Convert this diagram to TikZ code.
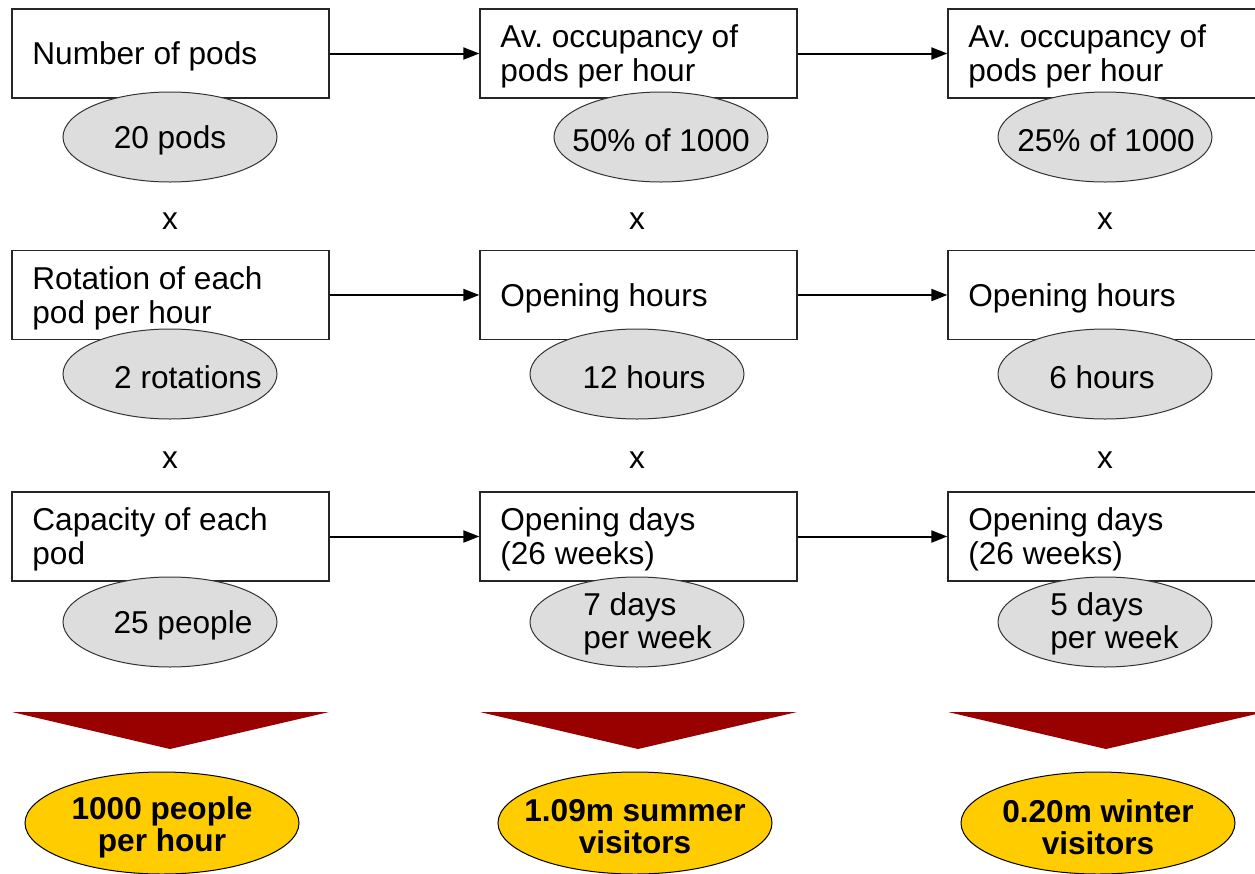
\documentclass[tikz,border=0pt]{standalone}
\usepackage{fontspec}
\setmainfont{Liberation Sans}
\usetikzlibrary{shapes.geometric,arrows.meta}
\definecolor{ellgrey}{HTML}{DDDDDD}
\definecolor{darkred}{HTML}{990000}
\definecolor{gold}{HTML}{FFCC00}
\tikzset{
  boxnode/.style={draw=black!85, line width=0.65pt, fill=white, rectangle, minimum width=158.5pt, minimum height=44.5pt, inner sep=0pt},
  boxtxt/.style={inner sep=0pt, anchor=west, align=left, yshift=-1.5pt, font=\fontsize{15.8pt}{17pt}\selectfont\frenchspacing},
  greyell/.style={draw=black!80, line width=0.5pt, fill=ellgrey, ellipse, inner sep=0pt, minimum width=107pt, minimum height=45pt},
  goldell/.style={draw=black, line width=0.5pt, fill=gold, ellipse, inner sep=0pt, minimum width=137pt, minimum height=51pt},
  txt/.style={inner sep=0pt, yshift=-1.5pt, font=\fontsize{15.8pt}{17pt}\selectfont},
  boldtxt/.style={inner sep=0pt, align=center, yshift=-1.5pt, font=\fontsize{15.8pt}{16pt}\selectfont\bfseries},
  lefttxt/.style={inner sep=0pt, align=left, anchor=west, yshift=-1.5pt, font=\fontsize{15.8pt}{16.5pt}\selectfont},
  arr/.style={line width=1pt, -{Triangle[length=8pt,width=6pt]}},
  chev/.style={fill=darkred, draw=none},
}
\begin{document}
\begin{tikzpicture}[x=0.5pt,y=-0.5pt]
\useasboundingbox (0,0) rectangle (1255,874);
\clip (0,0) rectangle (1255,874);
% boxes
\node[boxnode] (b11) at (170.5,53.5) {};
\node[boxnode] (b12) at (638.5,53.5) {};
\node[boxnode] (b13) at (1106.5,53.5) {};
\node[boxnode] (b21) at (170.5,295) {};
\node[boxnode] (b22) at (638.5,295) {};
\node[boxnode] (b23) at (1106.5,295) {};
\node[boxnode] (b31) at (170.5,536.5) {};
\node[boxnode] (b32) at (638.5,536.5) {};
\node[boxnode] (b33) at (1106.5,536.5) {};
% box labels
\node[boxtxt] (l11) at (32,53.5) {Number of pods};
\node[boxtxt] (l12) at (500,53.5) {Av. occupancy of\\pods per hour};
\node[boxtxt] (l13) at (968,53.5) {Av. occupancy of\\pods per hour};
\node[boxtxt] (l21) at (32,295) {Rotation of each\\pod per hour};
\node[boxtxt] (l22) at (500,295) {Opening hours};
\node[boxtxt] (l23) at (968,295) {Opening hours};
\node[boxtxt] (l31) at (32,536.5) {Capacity of each\\pod};
\node[boxtxt] (l32) at (500,536.5) {Opening days\\(26 weeks)};
\node[boxtxt] (l33) at (968,536.5) {Opening days\\(26 weeks)};
% arrows
\draw[arr] (b11.east) -- (b12.west);
\draw[arr] (b12.east) -- (b13.west);
\draw[arr] (b21.east) -- (b22.west);
\draw[arr] (b22.east) -- (b23.west);
\draw[arr] (b31.east) -- (b32.west);
\draw[arr] (b32.east) -- (b33.west);
% grey ellipses
\node[greyell] (e11) at (170,137) {};
\node[greyell] (e12) at (661,137) {};
\node[greyell] (e13) at (1105,137) {};
\node[greyell] (e21) at (170,374) {};
\node[greyell] (e22) at (637,374) {};
\node[greyell] (e23) at (1105,374) {};
\node[greyell] (e31) at (170,622) {};
\node[greyell] (e32) at (637,622) {};
\node[greyell] (e33) at (1105,622) {};
% ellipse texts
\node[txt] (t11) at (170,137) {20 pods};
\node[txt] (t12) at (661,137) {50\% of 1000};
\node[txt] (t13) at (1106,137) {25\% of 1000};
\node[txt] (t21) at (188,374) {2 rotations};
\node[txt] (t22) at (644,374) {12 hours};
\node[txt] (t23) at (1102,374) {6 hours};
\node[txt] (t31) at (183,622) {25 people};
\node[lefttxt] (t32) at (583,621) {7 days\\per week};
\node[lefttxt] (t33) at (1050,621) {5 days\\per week};
% multiplication signs
\node[txt] (x11) at (170,218) {x};
\node[txt] (x12) at (637,218) {x};
\node[txt] (x13) at (1105,218) {x};
\node[txt] (x21) at (170,457) {x};
\node[txt] (x22) at (637,457) {x};
\node[txt] (x23) at (1105,457) {x};
% chevrons
\fill[chev] (12,712) -- (329,712) -- (170,749) -- cycle;
\fill[chev] (480,712) -- (797,712) -- (638,749) -- cycle;
\fill[chev] (948,712) -- (1265,712) -- (1106,749) -- cycle;
% gold results
\node[goldell] (g1) at (162,823) {};
\node[goldell] (g2) at (635,823) {};
\node[goldell] (g3) at (1098,823) {};
\node[boldtxt] (r1) at (162,824) {1000 people\\per hour};
\node[boldtxt] (r2) at (635,824) {1.09m summer\\visitors};
\node[boldtxt] (r3) at (1098,824) {0.20m winter\\visitors};
\end{tikzpicture}
\end{document}
